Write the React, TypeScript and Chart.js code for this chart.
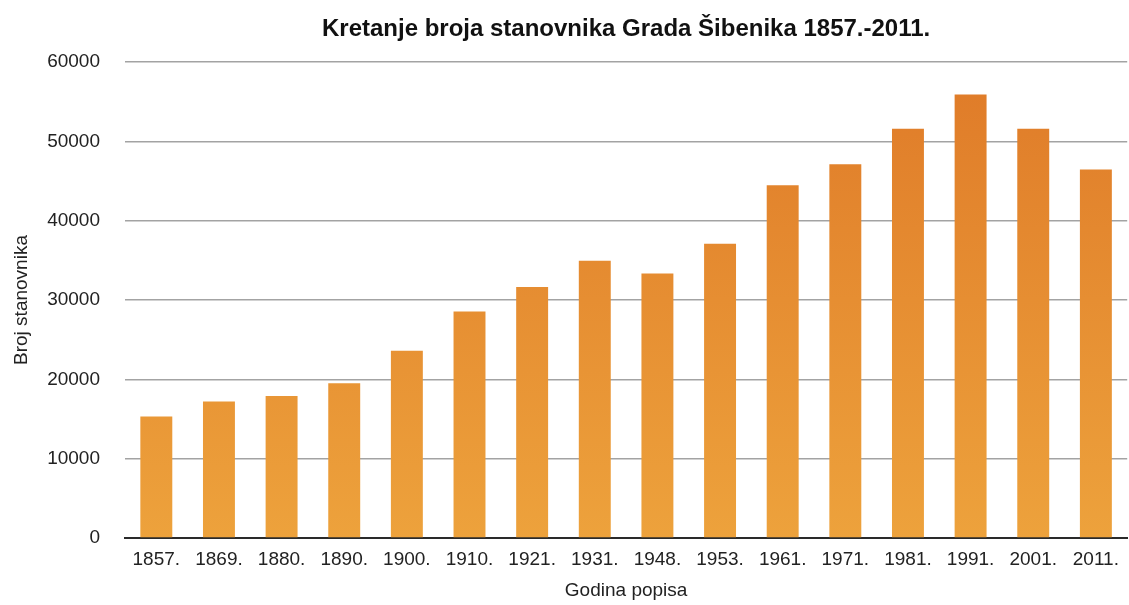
import React, { useEffect, useRef } from "react";
import { Chart, registerables } from "chart.js";

Chart.register(...registerables);

const categories = ["1857.", "1869.", "1880.", "1890.", "1900.", "1910.", "1921.", "1931.", "1948.", "1953.", "1961.", "1971.", "1981.", "1991.", "2001.", "2011."];
const population = [15300, 17200, 17900, 19500, 23600, 28550, 31650, 34950, 33350, 37100, 44480, 47100, 51600, 55900, 51600, 46450];
const yTicks = [0, 10000, 20000, 30000, 40000, 50000, 60000];

const titleText = "Kretanje broja stanovnika Grada Šibenika 1857.-2011.";
const xTitle = "Godina popisa";
const yTitle = "Broj stanovnika";

const FONT = "'Liberation Sans', Arial, Helvetica, sans-serif";

export default function App() {
  const ref = useRef<HTMLCanvasElement | null>(null);

  useEffect(() => {
    if (!ref.current) return;
    const chart = new Chart(ref.current, {
      type: "bar",
      data: {
        labels: categories,
        datasets: [
          {
            label: yTitle,
            data: population,
            backgroundColor: (ctx: any) => {
              const area = ctx.chart.chartArea;
              if (!area) return "#e8902f";
              const g = ctx.chart.ctx.createLinearGradient(0, area.top, 0, area.bottom);
              g.addColorStop(0, "#df7a28");
              g.addColorStop(1, "#eda23c");
              return g;
            },
            borderWidth: 0,
            barPercentage: 0.51,
            categoryPercentage: 1,
          },
        ],
      },
      options: {
        responsive: false,
        animation: false,
        layout: { padding: { left: 0, right: 0, top: 0, bottom: 0 } },
        plugins: {
          legend: { display: false },
          tooltip: { enabled: false },
          title: {
            display: true,
            text: titleText,
            fullSize: false,
            color: "#111",
            font: { family: FONT, size: 24, weight: "bold", lineHeight: 1.2 },
            padding: { top: 15, bottom: 18.2 },
          },
        },
        scales: {
          x: {
            grid: { display: false, drawTicks: false },
            border: { display: true, color: "#2a2a2a", width: 2 },
            ticks: {
              color: "#222",
              font: { family: FONT, size: 19 },
              padding: 10,
              maxRotation: 0,
              autoSkip: false,
            },
            title: {
              display: true,
              text: xTitle,
              color: "#222",
              font: { family: FONT, size: 19 },
              padding: { top: 4, bottom: 3 },
            },
            afterFit: (s: any) => {
              s.height = 67;
            },
          },
          y: {
            min: 0,
            max: 60000,
            afterBuildTicks: (s: any) => {
              s.ticks = yTicks.map((v) => ({ value: v }));
            },
            grid: { color: "#a3a3a3", lineWidth: 1.5, drawTicks: false },
            border: { display: false },
            ticks: {
              color: "#222",
              font: { family: FONT, size: 19 },
              padding: 25,
              callback: (v: any) => String(v),
            },
            title: {
              display: true,
              text: yTitle,
              color: "#222",
              font: { family: FONT, size: 19 },
              padding: { top: 10, bottom: 4 },
            },
            afterFit: (s: any) => {
              s.width = 125;
            },
          },
        },
      },
    });
    return () => chart.destroy();
  }, []);

  return (
    <div style={{ position: "absolute", left: 0, top: 0, width: 1129, height: 605, background: "#fff" }}>
      <canvas ref={ref} width={1129} height={605} style={{ display: "block" }} />
    </div>
  );
}
